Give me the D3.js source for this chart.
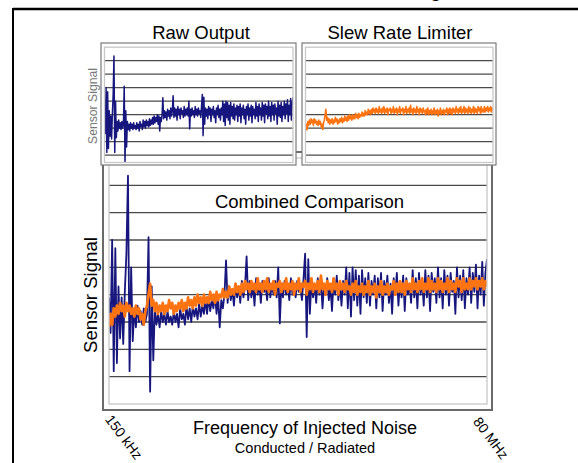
<!DOCTYPE html>
<html><head><meta charset="utf-8">
<script src="https://cdn.jsdelivr.net/npm/d3@7"></script>
<style>body{margin:0;background:#fff}svg{display:block}text{font-family:"Liberation Sans",Arial,sans-serif}</style>
</head><body>
<svg id="c" width="578" height="463"></svg>
<script>
const pageTitle = "Slew Rate Limiting";
const panelTitles = ["Raw Output", "Slew Rate Limiter", "Combined Comparison"];
const yLabel = "Sensor Signal";
const xLabel = "Frequency of Injected Noise";
const xSubLabel = "Conducted / Radiated";
const xTickLabels = ["150 kHz", "80 MHz"];
const gridValues = [1,2,3,4,5,6,7,8];

const rawOutput = [
3.9,2.6,6.0,1.2,5.7,1.5,4.3,2.4,3.9,2.2,4.1,5.5,8.35,1.2,5.0,2.3,3.5,2.8,3.6,3.0,
3.4,2.9,3.5,3.0,3.3,6.1,0.45,4.3,1.6,3.5,2.9,3.3,2.8,3.4,3.0,3.3,2.9,3.4,3.0,3.2,
2.9,3.4,3.0,3.3,2.8,3.5,3.1,3.3,2.9,3.6,3.1,3.5,3.0,3.6,3.2,3.5,3.1,3.7,3.2,3.6,
3.3,3.8,3.3,3.9,3.4,3.8,3.5,4.0,3.3,3.9,2.8,3.8,3.5,4.0,5.25,3.7,4.3,3.8,4.2,3.6,
4.4,3.9,4.3,3.7,4.5,3.9,4.3,5.4,3.8,4.5,3.9,4.4,3.6,4.6,4.0,4.4,3.7,4.5,4.1,4.3,
3.8,4.6,3.9,4.4,4.0,4.5,3.9,5.0,2.95,4.4,3.9,4.5,4.0,4.3,3.8,4.6,4.0,4.4,3.9,4.5,
4.1,4.3,3.8,4.6,5.5,2.45,5.3,3.3,4.5,3.9,4.4,3.7,4.6,4.0,4.5,3.5,4.4,4.0,4.6,3.8,
4.3,3.4,4.5,4.0,4.7,3.8,4.4,3.6,4.5,4.0,5.0,3.5,4.8,3.2,5.0,3.8,4.9,3.6,4.7,3.3,
4.9,3.9,4.6,3.7,4.8,3.6,4.5,4.0,4.7,3.5,4.6,3.9,4.8,3.4,4.5,4.0,4.7,3.7,4.4,3.3,
4.6,4.0,4.8,3.6,4.5,3.9,4.7,3.4,4.6,4.0,4.4,3.7,4.9,3.9,4.6,3.5,4.8,4.0,4.5,3.6,
4.9,3.9,4.7,3.4,4.8,4.1,4.6,3.7,5.0,3.9,4.6,3.5,4.9,4.0,4.7,3.6,4.8,4.1,4.5,3.3,
5.0,3.9,4.7,3.8,4.9,3.5,4.6,4.0,5.0,3.7,4.8,4.1,5.1,3.5,4.7,4.0,5.2,3.6,4.8,5.3
];
const slewLimited = [
2.8,3.3,2.9,3.5,3.2,3.6,3.3,3.7,3.4,3.6,3.2,3.7,3.4,3.6,3.3,3.5,3.2,3.6,3.3,3.5,
3.1,3.3,2.9,3.4,3.6,4.0,4.4,3.6,3.8,3.4,3.7,3.3,3.6,3.4,3.7,3.3,3.6,3.4,3.8,3.5,
3.7,3.3,3.6,3.4,3.7,3.5,3.8,3.4,3.7,3.5,3.9,3.6,3.8,3.5,3.9,3.6,4.0,3.7,3.9,3.6,
4.0,3.7,3.9,3.7,4.1,3.8,4.0,3.7,4.1,3.8,4.0,3.9,4.2,3.9,4.1,3.9,4.3,4.0,4.2,4.0,
4.4,4.1,4.3,4.0,4.4,4.1,4.5,4.2,4.4,4.1,4.5,4.2,4.4,4.1,4.6,4.2,4.4,4.1,4.5,4.2,
4.6,4.1,4.4,4.2,4.5,4.0,4.4,4.3,4.5,4.1,4.4,4.2,4.6,4.1,4.4,4.2,4.5,4.0,4.4,4.2,
4.6,4.1,4.4,4.3,4.5,4.0,4.4,4.2,4.6,4.1,4.4,4.2,4.5,4.1,4.7,4.2,4.4,4.0,4.5,4.2,
4.4,4.1,4.6,4.2,4.4,4.0,4.5,4.2,4.4,4.1,4.5,4.2,4.3,4.0,4.4,4.1,4.5,4.0,4.3,4.1,
4.4,4.0,4.3,4.1,4.5,4.0,4.3,4.1,4.4,3.9,4.3,4.1,4.5,4.0,4.3,4.1,4.4,4.0,4.3,4.2,
4.5,4.0,4.4,4.1,4.5,4.1,4.4,4.0,4.5,4.2,4.4,4.1,4.6,4.2,4.4,4.1,4.5,4.2,4.6,4.1,
4.4,4.2,4.6,4.1,4.5,4.2,4.4,4.1,4.6,4.2,4.5,4.1,4.4,4.2,4.6,4.1,4.5,4.2,4.4,4.1,
4.6,4.3,4.5,4.1,4.6,4.2,4.4,4.2,4.6,4.2,4.5,4.3,4.6,4.2,4.5,4.3,4.6,4.2,4.5,4.3
];

const BLUE = "#16167e", ORANGE = "#ff7410", GRID = "#4a4a4a";
const svg = d3.select("#c");

// outer frame
svg.append("line").attr("x1",13).attr("x2",578).attr("y1",9).attr("y2",9).attr("stroke","#000").attr("stroke-width",2.5);
svg.append("line").attr("x1",13).attr("x2",13).attr("y1",8).attr("y2",463).attr("stroke","#000").attr("stroke-width",2);
svg.append("text").attr("x",441).attr("y",-3).attr("text-anchor","end").attr("font-size",20).text(pageTitle);

function panel(o, opts) {
  const g = svg.append("g");
  g.append("rect").attr("x",o.x0).attr("y",o.y0).attr("width",o.x1-o.x0).attr("height",o.y1-o.y0)
    .attr("fill","#fff").attr("stroke",opts.outer).attr("stroke-width",opts.outerW);
  const ix = d3.scaleLinear().domain([0, rawOutput.length-1]).range([o.ix0, o.ix1]);
  const iy = d3.scaleLinear().domain([0, 9]).range([o.iyBase, o.iyTop]);
  const id = "clip" + Math.round(o.x0) + Math.round(o.y0);
  svg.append("clipPath").attr("id", id).append("rect")
     .attr("x",o.ix0).attr("y",o.iyTop).attr("width",o.ix1-o.ix0).attr("height",o.iy1-o.iyTop);
  g.selectAll("line.grid").data(gridValues).join("line").attr("class","grid")
    .attr("x1",o.ix0).attr("x2",o.ix1).attr("y1",d=>iy(d)).attr("y2",d=>iy(d))
    .attr("stroke",GRID).attr("stroke-width",opts.gridW);
  const lg = g.append("g").attr("clip-path","url(#"+id+")");
  opts.series.forEach(s => {
    const line = d3.line().x((d,i)=>ix(i)).y(d=>iy(d));
    lg.append("path").datum(s.data).attr("d",line).attr("fill","none")
      .attr("stroke",s.color).attr("stroke-width",s.w).attr("stroke-linejoin","round");
  });
  g.append("rect").attr("x",o.ix0).attr("y",o.iyTop).attr("width",o.ix1-o.ix0).attr("height",o.iy1-o.iyTop)
    .attr("fill","none").attr("stroke","#c8c8c8").attr("stroke-width",1.3);
  return g;
}

// combined panel (behind)
panel({x0:103,y0:152,x1:492,y1:410, ix0:109, ix1:487, iyTop:158, iyBase:404, iy1:404},
  {outer:"#6a6a6a", outerW:2, gridW:1.4, series:[{data:rawOutput,color:BLUE,w:1.8},{data:slewLimited,color:ORANGE,w:2.7}]});
// small panels
panel({x0:101,y0:43,x1:296,y1:165, ix0:104.5, ix1:293, iyTop:47.2, iyBase:168.7, iy1:162.5},
  {outer:"#7a7a7a", outerW:1.2, gridW:1.3, series:[{data:rawOutput,color:BLUE,w:1.5}]});
panel({x0:302,y0:43,x1:496,y1:165, ix0:305.5, ix1:493, iyTop:47.2, iyBase:168.7, iy1:162.5},
  {outer:"#7a7a7a", outerW:1.2, gridW:1.3, series:[{data:slewLimited,color:ORANGE,w:1.6}]});

// titles
svg.append("text").attr("x",201).attr("y",39).attr("text-anchor","middle").attr("font-size",18.5).text(panelTitles[0]);
svg.append("text").attr("x",400).attr("y",39).attr("text-anchor","middle").attr("font-size",18.5).text(panelTitles[1]);
svg.append("text").attr("x",309.5).attr("y",208).attr("text-anchor","middle").attr("font-size",18.5).text(panelTitles[2]);

// y labels
svg.append("text").attr("transform","translate(96.5,106) rotate(-90)").attr("text-anchor","middle")
  .attr("font-size",12.2).attr("fill","#777").text(yLabel);
svg.append("text").attr("transform","translate(96.5,295) rotate(-90)").attr("text-anchor","middle")
  .attr("font-size",18.6).attr("fill","#000").text(yLabel);

// x labels
svg.append("text").attr("x",305).attr("y",433.5).attr("text-anchor","middle").attr("font-size",18).text(xLabel);
svg.append("text").attr("x",305).attr("y",452.5).attr("text-anchor","middle").attr("font-size",14.5).text(xSubLabel);
const tickPos = [[124,437],[491,438]];
xTickLabels.forEach((t,i)=>{
  svg.append("text").attr("transform",`translate(${tickPos[i][0]},${tickPos[i][1]}) rotate(53)`)
    .attr("text-anchor","middle").attr("dominant-baseline","central").attr("font-size",14).text(t);
});
</script>
</body></html>
